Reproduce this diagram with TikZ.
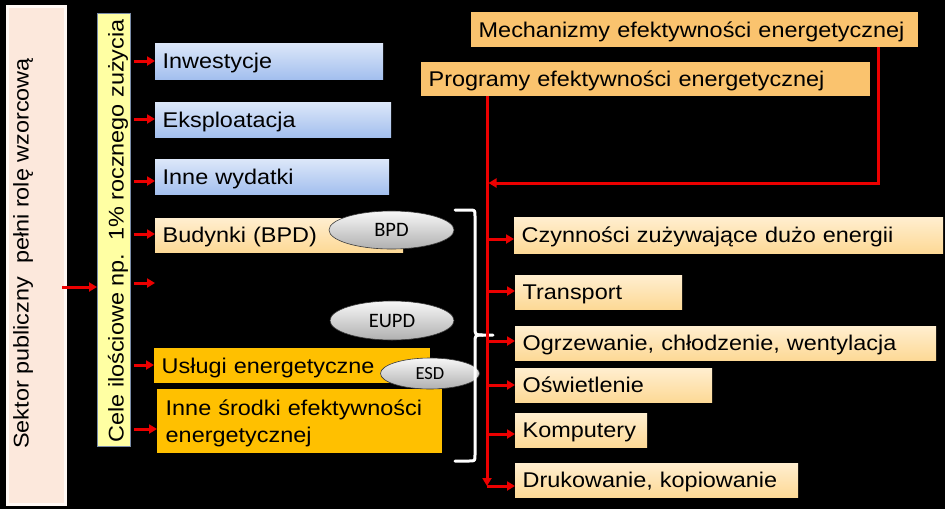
\documentclass[tikz,border=0pt]{standalone}
\usepackage{fontspec}
\setmainfont{Liberation Sans}[FakeStretch=1.1]
\newfontfamily\calfont{Carlito}
\usetikzlibrary{arrows.meta,shapes.geometric}
\definecolor{rd}{RGB}{236,0,0}
\definecolor{blA}{HTML}{DCE7F9}
\definecolor{blB}{HTML}{A3BFEE}
\definecolor{orA}{HTML}{FFEECF}
\definecolor{orB}{HTML}{FDD996}
\definecolor{gold}{HTML}{FFC000}
\definecolor{lor}{HTML}{FAC36E}
\definecolor{pk}{HTML}{FCE8DC}
\definecolor{pkb}{HTML}{FFF8F4}
\definecolor{yl}{HTML}{FFFFA3}
\definecolor{ylb}{HTML}{7A8CA8}
\tikzset{
  box/.style={anchor=north west, inner xsep=7.5pt, inner ysep=0pt, align=left,
              text height=15.3pt, text depth=0pt},
  bluebox/.style={box, top color=blA, bottom color=blB},
  palebox/.style={box, top color=orA, bottom color=orB},
  goldbox/.style={box, fill=gold},
  lightbox/.style={box, fill=lor},
  vtext/.style={rotate=90, inner sep=0pt, text height=15.3pt, text depth=0pt},
  ell/.style={ellipse, inner sep=0pt, top color=gray!6, bottom color=gray!62,
              draw=gray!45!black, line width=0.6pt},
  rl/.style={draw=rd, line width=3pt},
  ra/.style={rl, -{Triangle[length=8pt,width=9pt]}},
  bracestyle/.style={draw=white, line width=3pt, line cap=round, line join=round}
}
\begin{document}
\begin{tikzpicture}[x=1pt,y=-1pt,font=\fontsize{21.3}{27}\selectfont]
\useasboundingbox (0,0) rectangle (945,509);
\fill[black] (0,0) rectangle (945,509);

% left vertical boxes
\node[anchor=north west, fill=pk, draw=pkb, line width=3pt, inner sep=0pt, minimum width=58pt, minimum height=498pt] (sek) at (5.5,5) {};
\node[vtext] at (21,253.5) {Sektor publiczny\ \ pełni rolę wzorcową};
\node[anchor=north west, fill=yl, draw=ylb, line width=0.8pt, inner sep=0pt, minimum width=33pt, minimum height=433pt] (cele) at (97,13) {};
\node[vtext] at (116,231) {Cele ilościowe np.\ \ 1\% rocznego zużycia};

% middle boxes
\node[bluebox, text width=213pt, minimum height=36pt] (inw) at (155,43) {Inwestycje};
\node[bluebox, text width=221pt, minimum height=35pt] (eks) at (155,102) {Eksploatacja};
\node[bluebox, text width=219pt, minimum height=35pt] (inne) at (155,159) {Inne wydatki};
\node[palebox, text width=233pt, minimum height=34pt] (bud) at (155,218) {Budynki (BPD)};
\node[goldbox, text width=261pt, minimum height=35pt] (usl) at (154,348) {Usługi energetyczne};
\node[goldbox, inner xsep=8.5pt, text width=268pt, minimum height=64pt, text depth=27pt] (ins) at (157,389) {Inne środki efektywności\\energetycznej};
\coordinate (pusty) at (155,283);

% ellipses
\node[ell, minimum width=125pt, minimum height=38pt, font=\calfont\fontsize{20.5}{22}\selectfont] (bpd) at (391.5,230) {BPD};
\node[ell, minimum width=124pt, minimum height=39pt, font=\calfont\fontsize{20.5}{22}\selectfont] (eupd) at (392,320.5) {EUPD};
\node[ell, minimum width=99pt, minimum height=31pt, font=\calfont\fontsize{18.5}{20}\selectfont] (esd) at (430,373.5) {ESD};

% top right boxes
\node[lightbox, text width=432pt, minimum height=35pt] (mech) at (471,12) {Mechanizmy efektywności energetycznej};
\node[lightbox, text width=434pt, minimum height=34pt] (prog) at (421,62) {Programy efektywności energetycznej};

% right boxes
\node[palebox, text width=414pt, minimum height=36pt] (czy) at (514,217) {Czynności zużywające dużo energii};
\node[palebox, text width=152pt, minimum height=34pt] (tra) at (515,275) {Transport};
\node[palebox, text width=406pt, minimum height=34pt] (ogr) at (515,326) {Ogrzewanie, chłodzenie, wentylacja};
\node[palebox, text width=182pt, minimum height=34pt] (osw) at (515,368) {Oświetlenie};
\node[palebox, text width=117pt, minimum height=34pt] (kom) at (515,413) {Komputery};
\node[palebox, text width=268pt, minimum height=34pt] (dru) at (515,463) {Drukowanie, kopiowanie};

% brace
\draw[bracestyle] (455,210) -- (469,210) .. controls (475,210) .. (475,216) -- (475,327)
   .. controls (475,335) .. (483,335) -- (493,335);
\draw[bracestyle] (483,335) .. controls (475,335) .. (475,343) -- (475,455)
   .. controls (475,461) .. (469,461) -- (455,461);

% left arrows
\draw[ra] ([xshift=-4.5pt]sek.east |- 0,287) -- (cele.west |- 0,287);
\draw[ra, shorten <=3pt] (cele.east |- 0,61) -- (inw.west |- 0,61);
\draw[ra, shorten <=3pt] (cele.east |- 0,119) -- (eks.west |- 0,119);
\draw[ra, shorten <=3pt] (cele.east |- 0,181) -- (inne.west |- 0,181);
\draw[ra, shorten <=3pt] (cele.east |- 0,234) -- (bud.west |- 0,234);
\draw[ra, shorten <=3pt] (cele.east |- pusty) -- (pusty);
\draw[ra, shorten <=3pt] (cele.east |- 0,365) -- (usl.west |- 0,365);
\draw[ra, shorten <=3pt] (cele.east |- 0,429) -- (ins.west |- 0,429);

% right connectors
\coordinate (vtop) at (prog.south -| 487,0);
\coordinate (vbot) at (487,486);
\draw[ra] (vtop) -- (vbot);
\draw[ra] (mech.south -| 878,0) |- ([xshift=1.5pt]vtop |- 0,183);
\draw[ra] (vtop |- 0,239) -- (czy.west |- 0,239);
\draw[ra] (vtop |- 0,291) -- (tra.west |- 0,291);
\draw[ra] (vtop |- 0,341) -- (ogr.west |- 0,341);
\draw[ra] (vtop |- 0,385) -- (osw.west |- 0,385);
\draw[ra] (vtop |- 0,434) -- (kom.west |- 0,434);
\draw[ra] (vbot) -- (dru.west |- vbot);
\end{tikzpicture}
\end{document}
